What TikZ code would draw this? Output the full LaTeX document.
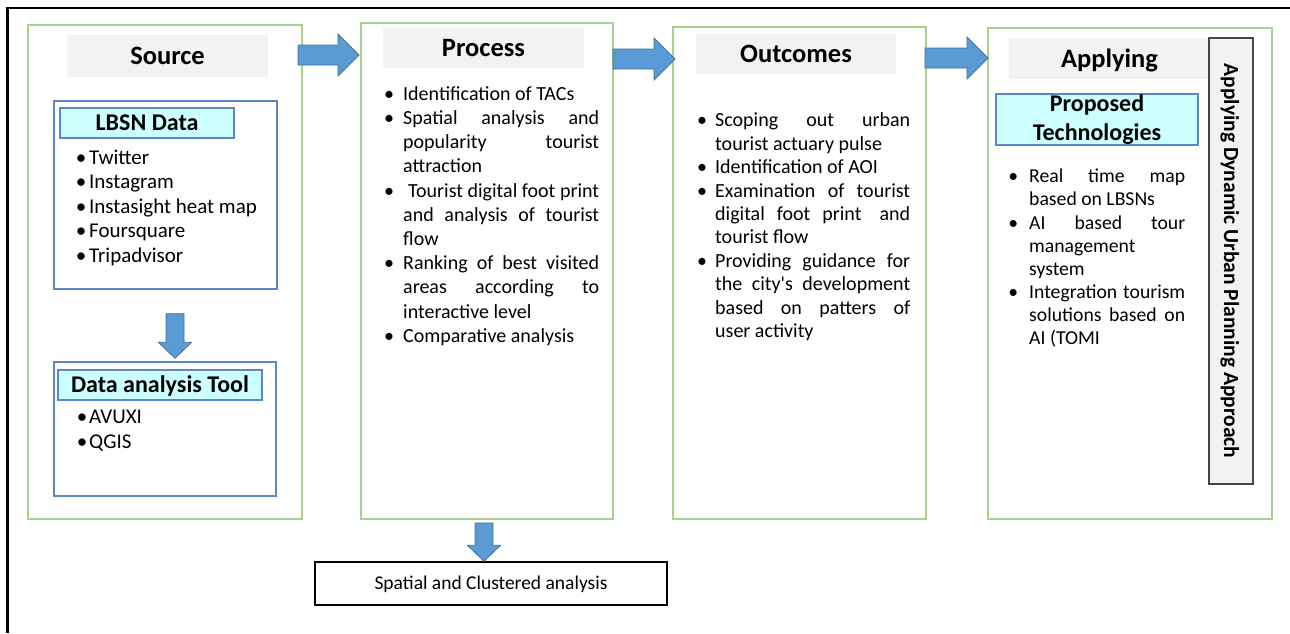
\documentclass[tikz,border=0pt]{standalone}
\usepackage{fontspec}
\setmainfont{Carlito}
\usetikzlibrary{calc}

\definecolor{boxgreen}{RGB}{169,209,142}
\definecolor{headgray}{RGB}{242,242,242}
\definecolor{paleCyan}{RGB}{204,255,255}
\definecolor{frameblue}{RGB}{91,135,195}
\definecolor{arrowblue}{RGB}{91,155,213}
\definecolor{arrowedge}{RGB}{65,113,156}
\definecolor{bardark}{RGB}{70,70,70}

% bullet centred #1 to the left of the line start
\newcommand{\bul}[1]{\llap{\makebox[0pt][c]{\textbullet}\hspace{#1}}}
% justified (stretched) line of given width
\newcommand{\jl}[2]{\makebox[#1][s]{#2}}

% block arrows between two named points
\newcommand{\rightblock}[2]{%
  \draw[blockarrow] ($(#1)+(0,-10)$) -- ($(#2)+(-21,-10)$) -- ($(#2)+(-21,-21)$)
    -- (#2) -- ($(#2)+(-21,21)$) -- ($(#2)+(-21,10)$) -- ($(#1)+(0,10)$) -- cycle;}
\newcommand{\downblock}[2]{%
  \draw[blockarrow] ($(#1)+(-9,0)$) -- ($(#2)+(-9,-16)$) -- ($(#2)+(-16.5,-16)$)
    -- (#2) -- ($(#2)+(16.5,-16)$) -- ($(#2)+(9,-16)$) -- ($(#1)+(9,0)$) -- cycle;}

\begin{document}
\begin{tikzpicture}[x=1pt,y=-1pt,
  wh/.style 2 args={minimum width=#1pt, minimum height=#2pt},
  stage/.style={draw=boxgreen, line width=1.8pt, inner sep=0pt, outer sep=0pt},
  headbox/.style={fill=headgray, inner sep=0pt, text height=17pt, text depth=0pt,
    font=\fontsize{26.5}{30}\selectfont\bfseries},
  groupbox/.style={draw=frameblue, line width=1.4pt, fill=white, inner sep=0pt},
  tagbox/.style={draw=frameblue, line width=1.4pt, fill=paleCyan, inner sep=0pt,
    font=\fontsize{24}{28.3}\selectfont\bfseries},
  listtext/.style={anchor=north west, inner sep=0pt, align=left},
  blockarrow/.style={fill=arrowblue, draw=arrowedge, line width=0.8pt, line join=miter},
]
\useasboundingbox (0,0) rectangle (1290,633);

% outer frame (left and top edges)
\draw[line width=2.6pt] (7.5,633) -- (7.5,8) -- (1290,8);

% ---- the four stages ----
\node[stage, wh={274}{494}] (src)  at (165,272)    {};
\node[stage, wh={252}{496}] (proc) at (487,271)    {};
\node[stage, wh={253}{492}] (outc) at (799.5,273)  {};
\node[stage, wh={284}{491}] (appl) at (1130,273.5) {};

\node[headbox, wh={201}{42}] (srct)  at (167.5,56)   {Source};
\node[headbox, wh={201}{40}] (proct) at (483.5,48)   {Process};
\node[headbox, wh={200}{40}] (outct) at (796,54)     {Outcomes};
\node[headbox, wh={201}{41}] (applt) at (1109.5,58.5){Applying};

% ---- Source: data and tools ----
\node[groupbox, wh={223}{188}] (lbsn) at (165.5,195) {};
\node[tagbox, wh={174}{30}, text height=15.5pt, text depth=0pt] (lbsnt) at (147,123) {LBSN Data};
\node[listtext, font=\fontsize{21}{24.5}\selectfont] (lbsnlist) at (89,146.85) {%
  \strut\bul{8pt}Twitter\\
  \strut\bul{8pt}Instagram\\
  \strut\bul{8pt}Instasight heat map\\
  \strut\bul{8pt}Foursquare\\
  \strut\bul{8pt}Tripadvisor};

\node[groupbox, wh={222}{134}] (dat) at (165,429) {};
\node[tagbox, wh={204}{30}, text height=15.5pt, text depth=0pt] (datt) at (160,385) {Data analysis Tool};
\node[listtext, font=\fontsize{21}{25}\selectfont] (datlist) at (89,406) {%
  \strut\bul{7pt}AVUXI\\
  \strut\bul{7pt}QGIS};

% ---- Process ----
\node[listtext, font=\fontsize{20}{24.2}\selectfont] (proclist) at (403,83.06) {%
  \strut\bul{14pt}Identification of TACs\\
  \strut\bul{14pt}\jl{196pt}{Spatial analysis and}\\
  \strut\jl{196pt}{popularity tourist}\\
  \strut attraction\\
  \strut\bul{14pt}\jl{196pt}{\hspace{5pt}Tourist digital foot print}\\
  \strut\jl{196pt}{and analysis of tourist}\\
  \strut flow\\
  \strut\bul{14pt}\jl{196pt}{Ranking of best visited}\\
  \strut\jl{196pt}{areas according to}\\
  \strut interactive level\\
  \strut\bul{14pt}Comparative analysis};

% ---- Outcomes ----
\node[listtext, font=\fontsize{20}{23.4}\selectfont] (outclist) at (715,110.3) {%
  \strut\bul{13pt}\jl{195pt}{Scoping out urban}\\
  \strut tourist actuary pulse\\
  \strut\bul{13pt}Identification of AOI\\
  \strut\bul{13pt}\jl{195pt}{Examination of tourist}\\
  \strut\jl{195pt}{digital foot print\hspace{6pt} and}\\
  \strut tourist flow\\
  \strut\bul{13pt}\jl{195pt}{Providing guidance for}\\
  \strut\jl{195pt}{the city\textquotesingle s development}\\
  \strut\jl{195pt}{based on patters of}\\
  \strut user activity};

% ---- Applying ----
\node[tagbox, wh={202}{51}, align=center] (propt) at (1097,119.5) {Proposed\\Technologies};
\node[listtext, font=\fontsize{19.7}{23.1}\selectfont] (appllist) at (1029,166.5) {%
  \strut\bul{16pt}\jl{156pt}{Real time map}\\
  \strut based on LBSNs\\
  \strut\bul{16pt}\jl{156pt}{AI based tour}\\
  \strut management\\
  \strut system\\
  \strut\bul{16pt}\jl{156pt}{Integration tourism}\\
  \strut\jl{156pt}{solutions based on}\\
  \strut AI (TOMI};

\node[draw=bardark, line width=1.4pt, fill=headgray, inner sep=0pt, rotate=-90,
  minimum width=446pt, minimum height=44pt, text height=13.8pt, text depth=0pt,
  font=\fontsize{21.5}{25}\selectfont\bfseries] (vbar) at (1231,261)
  {Applying Dynamic Urban Planning Approach};

% ---- result box ----
\node[draw=black, line width=1.5pt, inner sep=0pt, wh={352}{43}, text height=12.6pt,
  text depth=0pt, font=\fontsize{19.5}{23}\selectfont] (spat) at (491,583.5)
  {Spatial and Clustered analysis};

% ---- block arrows ----
\coordinate (a1s) at ($(src.north east)+(-4,30)$);
\coordinate (a1t) at ($(proc.north west)+(-2,32)$);
\coordinate (a2s) at ($(proc.north east)+(0,36)$);
\coordinate (a2t) at ($(outc.north west)+(2,32)$);
\coordinate (a3s) at ($(outc.north east)+(-1,31)$);
\coordinate (a3t) at ($(appl.north west)+(0,30)$);
\coordinate (d1s) at ($(lbsn.south)+(9.5,24)$);
\coordinate (d1t) at ($(dat.north)+(10,-3)$);
\coordinate (d2s) at ($(proc.south)+(-3,4)$);
\coordinate (d2t) at ($(spat.north)+(-7,0)$);

\rightblock{a1s}{a1t}
\rightblock{a2s}{a2t}
\rightblock{a3s}{a3t}
\downblock{d1s}{d1t}
\downblock{d2s}{d2t}
\end{tikzpicture}
\end{document}
